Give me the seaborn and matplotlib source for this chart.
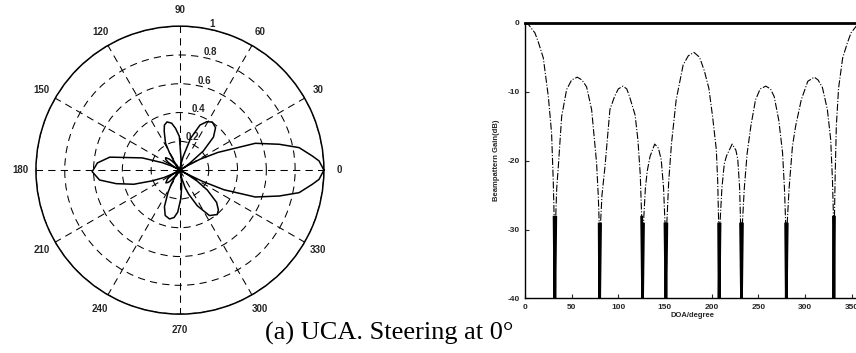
import numpy as np
import pandas as pd
import matplotlib
matplotlib.use("Agg")
import matplotlib.pyplot as plt
import seaborn as sns

# Beampattern of the uniform circular array, steered to 0 degrees (gain in dB)
doa_deg = [
    0, 3.8, 6.1, 10.7, 14.6, 19.6, 25, 28.5, 30.3, 31.2, 32,
    33, 34, 35.7, 39.3, 44.6, 50, 56, 61, 66, 71.4, 76.7, 78.5, 79.5, 80,
    81, 82.5, 85.7, 91, 96, 100, 105, 109, 112, 118, 121, 123.5, 125, 126,
    127, 129, 131, 134, 139, 143, 146, 148.5, 150, 151,
    152, 154, 157, 162, 169.5, 175, 181, 187, 192, 197, 201, 205, 206.5, 207.5, 208,
    209, 211, 213.5, 216, 222, 226, 228, 230, 231, 232,
    233, 235, 238, 242, 247, 252, 258, 263, 267, 272, 276, 278, 279.3, 280,
    281, 283, 286.6, 290, 296, 303, 310, 314, 318.7, 324, 327.6, 329.5, 330.5, 331,
    331.6, 332.4, 333.6, 336, 340.4, 345.4, 349.3, 353.9, 356.2, 360,
]
gain_db = [
    0, -0.28, -0.68, -1.49, -2.94, -5.1, -10.7, -16, -23, -28, -40,
    -28, -24, -20.9, -13.6, -9.7, -8.3, -7.9, -8.3, -9.3, -12.6, -20.3, -25, -29, -40,
    -29, -25, -20.9, -12.6, -10.7, -9.6, -9.2, -9.6, -10.7, -13.4, -17, -22, -28, -40,
    -29, -24, -21.5, -19.4, -17.6, -18.2, -19.9, -24, -29, -40,
    -29, -23, -17.5, -11.2, -6.1, -4.8, -4.3, -5, -6.9, -9.5, -13.6, -18.4, -23, -29, -40,
    -29, -24, -20.5, -19.3, -17.6, -18.5, -19.8, -24, -29, -40,
    -29, -24, -19, -15, -11.2, -9.6, -9.2, -9.6, -10.7, -14.2, -18.9, -24, -29, -40,
    -29, -24, -17.9, -15, -11.2, -8.5, -7.9, -8.3, -9.4, -12.6, -17, -23, -28, -40,
    -28, -22, -15, -9.5, -5.1, -2.94, -1.49, -0.68, -0.28, 0,
]

polar_ticks = [0, 30, 60, 90, 120, 150, 180, 210, 240, 270, 300, 330]
radial_ticks = [0.2, 0.4, 0.6, 0.8, 1.0]
radial_labels = ["0.2", "0.4", "0.6", "0.8", "1"]
x_ticks = [0, 50, 100, 150, 200, 250, 300, 350]
y_ticks = [0, -10, -20, -30, -40]
caption = "(a) UCA. Steering at 0\u00b0"

sns.set_theme(style="white")
plt.rcParams["font.family"] = ["Liberation Sans", "DejaVu Sans"]

df = pd.DataFrame({"doa": doa_deg, "gain": gain_db})
df["theta"] = np.deg2rad(df["doa"])
df["amp"] = 10 ** (df["gain"] / 20.0)

fig = plt.figure(figsize=(8.56, 3.53), dpi=100)
fig.patch.set_facecolor("white")

# ---- polar pattern (linear amplitude) ----
axp = fig.add_axes([0.042, 0.110, 0.3364, 0.816], projection="polar")
sns.lineplot(data=df, x="theta", y="amp", ax=axp, sort=False, estimator=None,
             color="black", linewidth=1.1)
axp.set_xlabel("")
axp.set_ylabel("")
axp.set_rlim(0, 1)
axp.set_thetagrids(polar_ticks, [""] * len(polar_ticks))
axp.set_rticks(radial_ticks)
axp.set_yticklabels(radial_labels)
axp.set_rlabel_position(78)
axp.grid(True, color="black", linestyle=(0, (7, 5)), linewidth=0.75)
axp.spines["polar"].set_linewidth(1.1)
axp.spines["polar"].set_color("black")
axp.tick_params(axis="y", labelsize=7)
for lbl in axp.get_yticklabels():
    lbl.set_fontweight("bold")
    lbl.set_horizontalalignment("left")
# angle labels centred on a ring just outside the unit circle
for t in polar_ticks:
    axp.text(np.deg2rad(t), 1.11, str(t), ha="center", va="center",
             fontsize=7, fontweight="bold", clip_on=False)
axp.set_facecolor("white")

# ---- beampattern gain versus DOA (dB) ----
axr = fig.add_axes([0.6133, 0.1544, 0.3925, 0.7813])
sns.lineplot(data=df, x="doa", y="gain", ax=axr, sort=False, estimator=None,
             color="black", linewidth=0.8, linestyle="-.")
# deep nulls drawn as solid strokes down to the floor
null_part = np.ma.masked_where(df["gain"].to_numpy() > -26, df["gain"].to_numpy())
axr.plot(df["doa"], null_part, color="black", linewidth=2.0, solid_capstyle="butt")
axr.set_xlim(0, 360)
axr.set_ylim(-40, 0)
axr.set_xticks(x_ticks)
axr.set_yticks(y_ticks)
axr.set_xticklabels([str(t) for t in x_ticks])
axr.set_yticklabels([str(t) for t in y_ticks])
axr.tick_params(direction="in", length=3, width=0.8, labelsize=6, pad=4,
                left=True, bottom=True)
for lbl in axr.get_xticklabels() + axr.get_yticklabels():
    lbl.set_fontweight("bold")
axr.set_xlabel("DOA/degree", fontsize=5.5, fontweight="bold", labelpad=1)
axr.set_ylabel("Beampattern Gain(dB)", fontsize=5.5, fontweight="bold", labelpad=5)
for side in ["left", "bottom"]:
    axr.spines[side].set_color("black")
    axr.spines[side].set_linewidth(1.0)
axr.spines["top"].set_color("black")
axr.spines["top"].set_linewidth(2.0)
axr.spines["right"].set_visible(False)

fig.text(0.3096, 0.039, caption, family=["Liberation Serif", "DejaVu Serif"],
         fontsize=19, ha="left", va="baseline", color="black")

fig.savefig("out.png", dpi=100, facecolor="white")
